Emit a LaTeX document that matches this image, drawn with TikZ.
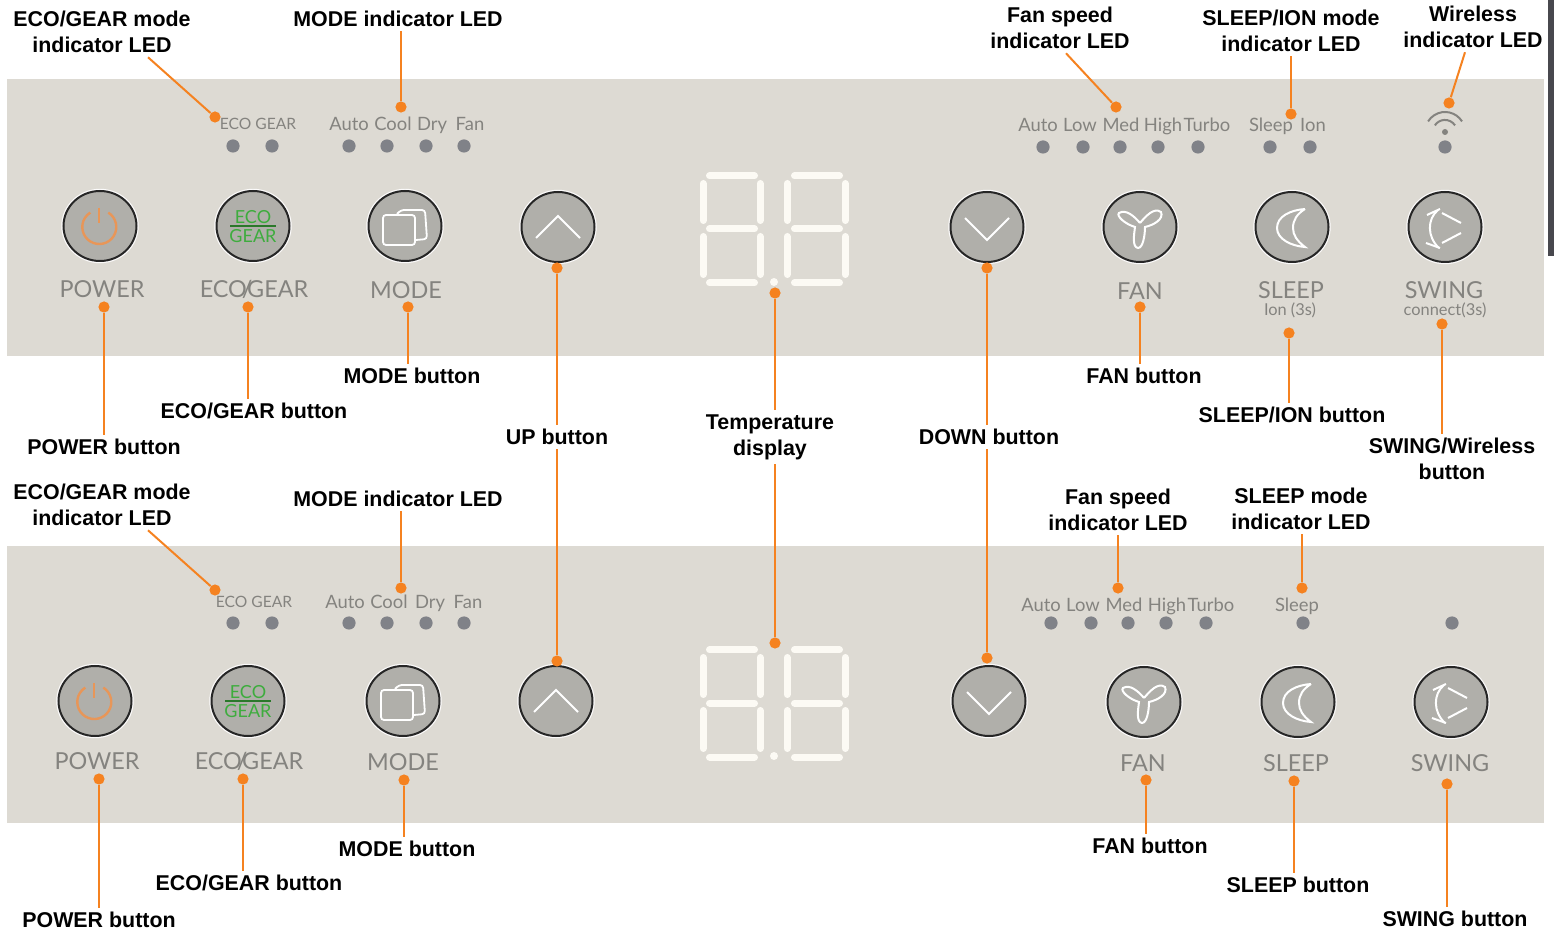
\documentclass[tikz,border=0pt]{standalone}
\usepackage{fontspec}
\setmainfont{Liberation Sans}
\newfontfamily\panelfont{Lato}
\usetikzlibrary{positioning,calc,shapes.geometric}
\definecolor{panelgrey}{RGB}{221,218,211}
\definecolor{btngrey}{RGB}{176,175,170}
\definecolor{ledgrey}{RGB}{128,130,136}
\definecolor{printgrey}{RGB}{132,131,127}
\definecolor{leadorange}{RGB}{245,130,32}
\definecolor{powerorange}{RGB}{232,150,88}
\definecolor{ecogreen}{RGB}{62,172,62}
\definecolor{segwhite}{RGB}{252,250,244}
\definecolor{stripgrey}{RGB}{72,72,78}
\newcommand{\ecoslash}{\kern-2.6pt/\kern-2.6pt}
\tikzset{
  poweric/.pic={
    \draw[powerorange, line width=1.2pt] (8.3,13.4) arc (58:-238:17);
    \draw[powerorange, line width=1.2pt] (-1,18) -- (-1,3);
  },
  ecoic/.pic={
    \node[ecogreen, font=\panelfont\fontsize{9}{10}\selectfont, inner sep=0] (-eco) at (0,9) {ECO};
    \node[ecogreen, font=\panelfont\fontsize{9}{10}\selectfont, inner sep=0] (-gear) at (0,-10) {GEAR};
    \draw[ecogreen!70!black, line width=0.6pt] (-23,0) -- (23,0);
  },
  modeic/.pic={
    \draw[white, line width=0.9pt, rounded corners=1.5pt] (-22,-19) rectangle (10,11);
    \draw[white, line width=0.9pt, rounded corners=1.5pt] (-8,12) -- (-4,16) -- (20,16) -- (22,-13) -- (11,-14);
  },
  upic/.pic={\draw[white, line width=0.9pt] (-22,-11) -- (0,11) -- (22,-11);},
  downic/.pic={\draw[white, line width=0.9pt] (-22,9) -- (0,-13) -- (22,9);},
  fanic/.pic={
    \draw[white, line width=1pt] (0,4) .. controls (-6,11) and (-14,18) .. (-21,14) .. controls (-24,11) and (-15,3) .. (-5,0)
      .. controls (-6,-8) and (-8,-20) .. (-2,-21) .. controls (3,-21) and (5,-8) .. (5,0)
      .. controls (14,2) and (24,8) .. (21,15) .. controls (14,20) and (6,11) .. (0,4);
  },
  sleepic/.pic={
    \draw[white, line width=1pt] (13,18) .. controls (-1,17) and (-15,11) .. (-15,-1) .. controls (-15,-12) and (-1,-19) .. (13,-20)
      .. controls (5,-14) and (1,-8) .. (1,-1) .. controls (1,7) and (5,13) .. (13,18);
  },
  swingic/.pic={
    \draw[white, line width=1pt] (-7,17) .. controls (-18,8) and (-18,-10) .. (-6,-21);
    \draw[white, line width=1pt] (-18,12) -- (-5,18) (-19,-16) -- (-5,-21);
    \draw[white, line width=1pt] (-3,14) -- (16,4) (-3,-16) -- (16,-6);
  },
  segdisplay/.pic={
    \draw[seg] (709.5,-176) -- (754.5,-176) (709.5,-229) -- (754.5,-229) (709.5,-283) -- (754.5,-283);
    \draw[seg] (703,-183.5) -- (703,-220.5) (703,-236.5) -- (703,-274.5);
    \draw[seg] (760,-183.5) -- (760,-220.5) (760,-236.5) -- (760,-274.5);
    \draw[seg] (794.5,-176) -- (839.5,-176) (794.5,-229) -- (839.5,-229) (794.5,-283) -- (839.5,-283);
    \draw[seg] (787,-183.5) -- (787,-220.5) (787,-236.5) -- (787,-274.5);
    \draw[seg] (845,-183.5) -- (845,-220.5) (845,-236.5) -- (845,-274.5);
    \fill[segwhite] (774,-282) circle (4);
  },
  wifiic/.pic={
    \draw[printgrey, line width=1pt] (17,10.6) arc (32:148:20);
    \draw[printgrey, line width=1pt] (10,6.6) arc (33:147:12);
    \fill[printgrey] (0,0) circle (3);
  },
}
\begin{document}
\begin{tikzpicture}[
  x=0.5pt, y=0.5pt,
  seg/.style={segwhite, line width=3.5pt, line cap=round},
  btn/.style={ellipse, draw=black!85, line width=1pt, fill=btngrey, minimum width=36.5pt, minimum height=35pt, inner sep=0, preaction={draw=white!90!panelgrey, line width=2.2pt}},
  led/.style={circle, fill=ledgrey, minimum size=6.6pt, inner sep=0},
  tip/.style={circle, fill=leadorange, minimum size=5.6pt, inner sep=0},
  lead/.style={leadorange, line width=1pt},
  callout/.style={font=\fontsize{10.7}{13}\bfseries\selectfont, align=center, inner sep=2pt, text=black},
  capt/.style={font=\panelfont\fontsize{11.7}{12}\selectfont, text=printgrey, inner sep=0},
  smallcapt/.style={font=\panelfont\fontsize{9.2}{10}\selectfont, text=printgrey, inner sep=0, text height=8pt, text depth=1pt},
  ecocapt/.style={font=\panelfont\fontsize{7.8}{9}\selectfont, text=printgrey, inner sep=0},
  subcapt/.style={font=\panelfont\fontsize{8.2}{9}\selectfont, text=printgrey, inner sep=0}
]
\useasboundingbox (0,0) rectangle (1554,-930);
\fill[panelgrey] (7,-79) rectangle (1544,-356);
\fill[panelgrey] (7,-546) rectangle (1544,-823);
\fill[stripgrey] (1548,0) rectangle (1554,-256);

% upper panel
\node[btn] (powerA) at (100,-226) {};
\node[btn] (ecoA) at (253,-226) {};
\node[btn] (modeA) at (405,-226) {};
\node[btn] (upA) at (558,-227) {};
\node[btn] (downA) at (987,-227) {};
\node[btn] (fanA) at (1140,-227) {};
\node[btn] (sleepA) at (1292,-227) {};
\node[btn] (swingA) at (1445,-227) {};
\pic at (powerA) {poweric};
\pic at (ecoA) {ecoic};
\pic at (modeA) {modeic};
\pic at (upA) {upic};
\pic at (downA) {downic};
\pic at (fanA) {fanic};
\pic at (sleepA) {sleepic};
\pic at (swingA) {swingic};
\pic at (1445,-132) {wifiic};
\pic at (0,0) {segdisplay};

\node[capt] (capPowerA) at (102,-289) {POWER};
\node[capt] (capEcoA) at (254,-289) {ECO\ecoslash GEAR};
\node[capt] (capModeA) at (406,-290) {MODE};
\node[capt] (capFanA) at (1140,-291) {FAN};
\node[capt] (capSleepA) at (1291,-290) {SLEEP};
\node[subcapt] (capIonA) at (1290,-310) {Ion (3s)};
\node[capt] (capSwingA) at (1444,-290) {SWING};
\node[subcapt] (capConnA) at (1445,-310) {connect(3s)};

\node[ecocapt] (txEcoA) at (258,-124) {ECO GEAR};
\node[smallcapt] (txAutoA) at (349,-124) {Auto};
\node[smallcapt] (txCoolA) at (393,-124) {Cool};
\node[smallcapt] (txDryA) at (432,-124) {Dry};
\node[smallcapt] (txFanA) at (470,-124) {Fan};
\node[smallcapt] (txAutoFA) at (1038,-125) {Auto};
\node[smallcapt] (txLowA) at (1080,-125) {Low};
\node[smallcapt] (txMedA) at (1121,-125) {Med};
\node[smallcapt] (txHighA) at (1163,-125) {High};
\node[smallcapt] (txTurboA) at (1207,-125) {Turbo};
\node[smallcapt] (txSleepA) at (1271,-125) {Sleep};
\node[smallcapt] (txIonA) at (1313,-125) {Ion};

\node[led] (ledA1) at (233,-146) {};
\node[led] (ledA2) at (272,-146) {};
\node[led] (ledA3) at (349,-146) {};
\node[led] (ledA4) at (387,-146) {};
\node[led] (ledA5) at (426,-146) {};
\node[led] (ledA6) at (464,-146) {};
\node[led] (ledA7) at (1043,-147) {};
\node[led] (ledA8) at (1083,-147) {};
\node[led] (ledA9) at (1120,-147) {};
\node[led] (ledA10) at (1158,-147) {};
\node[led] (ledA11) at (1198,-147) {};
\node[led] (ledA12) at (1270,-147) {};
\node[led] (ledA13) at (1310,-147) {};
\node[led] (ledA14) at (1445,-147) {};

% lower panel
\node[btn] (powerB) at (95,-701) {};
\node[btn] (ecoB) at (248,-701) {};
\node[btn] (modeB) at (403,-701) {};
\node[btn] (upB) at (556,-701) {};
\node[btn] (downB) at (989,-701) {};
\node[btn] (fanB) at (1144,-702) {};
\node[btn] (sleepB) at (1298,-702) {};
\node[btn] (swingB) at (1451,-702) {};
\pic at (powerB) {poweric};
\pic at (ecoB) {ecoic};
\pic at (modeB) {modeic};
\pic at (upB) {upic};
\pic at (downB) {downic};
\pic at (fanB) {fanic};
\pic at (sleepB) {sleepic};
\pic at (swingB) {swingic};
\pic at (0,-474) {segdisplay};

\node[capt] (capPowerB) at (97,-761) {POWER};
\node[capt] (capEcoB) at (249,-761) {ECO\ecoslash GEAR};
\node[capt] (capModeB) at (403,-762) {MODE};
\node[capt] (capFanB) at (1143,-763) {FAN};
\node[capt] (capSleepB) at (1296,-763) {SLEEP};
\node[capt] (capSwingB) at (1450,-763) {SWING};

\node[ecocapt] (txEcoB) at (254,-602) {ECO GEAR};
\node[smallcapt] (txAutoB) at (345,-602) {Auto};
\node[smallcapt] (txCoolB) at (389,-602) {Cool};
\node[smallcapt] (txDryB) at (430,-602) {Dry};
\node[smallcapt] (txFanB) at (468,-602) {Fan};
\node[smallcapt] (txAutoFB) at (1041,-604) {Auto};
\node[smallcapt] (txLowB) at (1083,-604) {Low};
\node[smallcapt] (txMedB) at (1124,-604) {Med};
\node[smallcapt] (txHighB) at (1167,-604) {High};
\node[smallcapt] (txTurboB) at (1211,-604) {Turbo};
\node[smallcapt] (txSleepB) at (1297,-604) {Sleep};

\node[led] (ledB1) at (233,-623) {};
\node[led] (ledB2) at (272,-623) {};
\node[led] (ledB3) at (349,-623) {};
\node[led] (ledB4) at (387,-623) {};
\node[led] (ledB5) at (426,-623) {};
\node[led] (ledB6) at (464,-623) {};
\node[led] (ledB7) at (1051,-623) {};
\node[led] (ledB8) at (1091,-623) {};
\node[led] (ledB9) at (1128,-623) {};
\node[led] (ledB10) at (1166,-623) {};
\node[led] (ledB11) at (1206,-623) {};
\node[led] (ledB12) at (1303,-623) {};
\node[led] (ledB13) at (1452,-623) {};

% callouts, upper
\node[callout] (lEcoLedA) at (102,-32) {ECO/GEAR mode\\indicator LED};
\node[callout] (lModeLedA) at (398,-19) {MODE indicator LED};
\node[callout] (lFanLedA) at (1060,-28) {Fan speed\\indicator LED};
\node[callout] (lSleepLedA) at (1291,-31) {SLEEP/ION mode\\indicator LED};
\node[callout] (lWifiLedA) at (1473,-27) {Wireless\\indicator LED};
\node[callout] (lPowerA) at (104,-447) {POWER button};
\node[callout] (lEcoA) at (254,-411) {ECO/GEAR button};
\node[callout] (lModeA) at (412,-376) {MODE button};
\node[callout] (lUp) at (557,-437) {UP button};
\node[callout] (lTemp) at (770,-437) {Temperature\\display};
\node[callout] (lDown) at (989,-437) {DOWN button};
\node[callout] (lFanA) at (1144,-376) {FAN button};
\node[callout] (lSleepA) at (1292,-415) {SLEEP/ION button};
\node[callout] (lSwingA) at (1452,-459) {SWING/Wireless\\button};

% callouts, lower
\node[callout] (lEcoLedB) at (102,-505) {ECO/GEAR mode\\indicator LED};
\node[callout] (lModeLedB) at (398,-499) {MODE indicator LED};
\node[callout] (lFanLedB) at (1118,-510) {Fan speed\\indicator LED};
\node[callout] (lSleepLedB) at (1301,-509) {SLEEP mode\\indicator LED};
\node[callout] (lPowerB) at (99,-920) {POWER button};
\node[callout] (lEcoB) at (249,-883) {ECO/GEAR button};
\node[callout] (lModeB) at (407,-849) {MODE button};
\node[callout] (lFanB) at (1150,-846) {FAN button};
\node[callout] (lSleepB) at (1298,-885) {SLEEP button};
\node[callout] (lSwingB) at (1455,-919) {SWING button};

% lead ends
\node[tip] (tEcoLedA) at (215,-117) {};
\node[tip] (tModeLedA) at (401,-107) {};
\node[tip] (tFanLedA) at (1116,-107) {};
\node[tip] (tSleepLedA) at (1291,-114) {};
\node[tip] (tWifiLedA) at (1449,-103) {};
\node[tip] (tPowerA) at (104,-307) {};
\node[tip] (tEcoA) at (248,-307) {};
\node[tip] (tModeA) at (408,-307) {};
\node[tip] (tUpA) at (557,-268) {};
\node[tip] (tTempA) at (775,-293) {};
\node[tip] (tDownA) at (987,-268) {};
\node[tip] (tFanA) at (1140,-307) {};
\node[tip] (tSleepA) at (1289,-333) {};
\node[tip] (tSwingA) at (1442,-324) {};
\node[tip] (tEcoLedB) at (215,-590) {};
\node[tip] (tModeLedB) at (401,-588) {};
\node[tip] (tFanLedB) at (1118,-588) {};
\node[tip] (tSleepLedB) at (1302,-588) {};
\node[tip] (tPowerB) at (99,-779) {};
\node[tip] (tEcoB) at (243,-779) {};
\node[tip] (tModeB) at (404,-780) {};
\node[tip] (tUpB) at (557,-661) {};
\node[tip] (tTempB) at (775,-643) {};
\node[tip] (tDownB) at (987,-658) {};
\node[tip] (tFanB) at (1146,-780) {};
\node[tip] (tSleepB) at (1294,-781) {};
\node[tip] (tSwingB) at (1447,-784) {};

\draw[lead] ([xshift=23pt]lEcoLedA.south) -- (tEcoLedA);
\draw[lead] (tModeLedA) -- (tModeLedA |- lModeLedA.south);
\draw[lead] ([xshift=3pt]lFanLedA.south) -- (tFanLedA);
\draw[lead] (tSleepLedA) -- (tSleepLedA |- lSleepLedA.south);
\draw[lead] ([xshift=-4pt]lWifiLedA.south) -- (tWifiLedA);
\draw[lead] (tPowerA) -- (tPowerA |- lPowerA.north);
\draw[lead] (tEcoA) -- (tEcoA |- lEcoA.north);
\draw[lead] (tModeA) -- (tModeA |- lModeA.north);
\draw[lead] (tUpA) -- (tUpA |- lUp.north);
\draw[lead] (tTempA) -- (tTempA |- lTemp.north);
\draw[lead] (tDownA) -- (tDownA |- lDown.north);
\draw[lead] (tFanA) -- (tFanA |- lFanA.north);
\draw[lead] (tSleepA) -- (tSleepA |- lSleepA.north);
\draw[lead] (tSwingA) -- (tSwingA |- lSwingA.north);
\draw[lead] ([xshift=23pt]lEcoLedB.south) -- (tEcoLedB);
\draw[lead] (tModeLedB) -- (tModeLedB |- lModeLedB.south);
\draw[lead] (tFanLedB) -- (tFanLedB |- lFanLedB.south);
\draw[lead] (tSleepLedB) -- (tSleepLedB |- lSleepLedB.south);
\draw[lead] (tPowerB) -- (tPowerB |- lPowerB.north);
\draw[lead] (tEcoB) -- (tEcoB |- lEcoB.north);
\draw[lead] (tModeB) -- (tModeB |- lModeB.north);
\draw[lead] (tUpB) -- (tUpB |- lUp.south);
\draw[lead] (tTempB) -- (tTempB |- lTemp.south);
\draw[lead] (tDownB) -- (tDownB |- lDown.south);
\draw[lead] (tFanB) -- (tFanB |- lFanB.north);
\draw[lead] (tSleepB) -- (tSleepB |- lSleepB.north);
\draw[lead] (tSwingB) -- (tSwingB |- lSwingB.north);
\end{tikzpicture}
\end{document}
